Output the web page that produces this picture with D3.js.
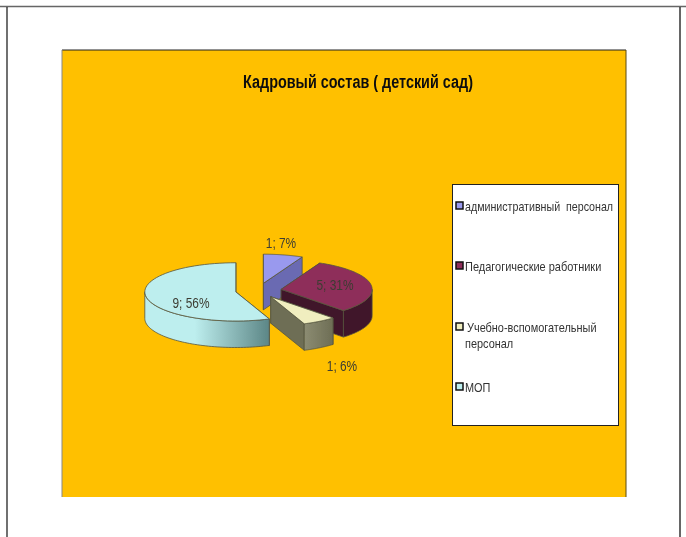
<!DOCTYPE html>
<html><head><meta charset="utf-8">
<script src="https://cdn.jsdelivr.net/npm/d3@7"></script>
<style>
html,body{margin:0;padding:0;background:#fff;overflow:hidden}
svg{display:block}
text{font-family:"Liberation Sans",Arial,sans-serif}
</style></head><body>
<svg id="c" width="686" height="537"></svg>
<script>
const categories = ["административный  персонал","Педагогические работники","Учебно-вспомогательный","МОП"];
const counts = [1,5,1,9];
const percents = [7,31,6,56];
const topColors = ["#9999ee","#8e2e5a","#f0eebf","#bdeeee"];
const sideColors = ["#6a6ab2","#3f1429","#6e6e55","#5f8a8a"];
const wallFrom = ["#6a6ab2","#3f1429","#8c8c72","#bdeeee"];
const wallTo = ["#6a6ab2","#3f1429","#6e6e55","#5c8686"];
const title = "Кадровый состав ( детский сад)";

const W=686,H=537;
const svg=d3.select("#c");
const defs=svg.append("defs");
const soft=defs.append("filter").attr("id","soft").attr("x","-5%").attr("y","-5%").attr("width","110%").attr("height","110%");
soft.append("feGaussianBlur").attr("stdDeviation",0.35);

// condense text horizontally, as the reference's narrow rendering does
const narrow=(sel,f)=>sel.each(function(){
  const w=this.getComputedTextLength();
  this.setAttribute("lengthAdjust","spacingAndGlyphs");
  this.setAttribute("textLength",w*f);
});

// page frame
const frame=svg.append("g");
frame.append("line").attr("x1",0).attr("x2",W).attr("y1",6.5).attr("y2",6.5).attr("stroke","#666").attr("stroke-width",1.5);
frame.append("line").attr("x1",7).attr("x2",7).attr("y1",7).attr("y2",H).attr("stroke","#111").attr("stroke-width",1.2);
frame.append("line").attr("x1",680).attr("x2",680).attr("y1",7).attr("y2",H).attr("stroke","#333").attr("stroke-width",1.5);

// chart area
const area={x:62,y:50,w:564,h:447};
svg.append("rect").attr("x",area.x).attr("y",area.y).attr("width",area.w).attr("height",area.h).attr("fill","#ffc000");
svg.append("line").attr("x1",area.x).attr("x2",area.x+area.w).attr("y1",area.y).attr("y2",area.y).attr("stroke","#222");
svg.append("line").attr("x1",area.x).attr("x2",area.x).attr("y1",area.y).attr("y2",area.y+area.h).attr("stroke","#888");
svg.append("line").attr("x1",area.x+area.w).attr("x2",area.x+area.w).attr("y1",area.y).attr("y2",area.y+area.h).attr("stroke","#5a4a10");

svg.append("text").text(title).attr("x",358).attr("y",88).attr("text-anchor","middle")
  .attr("font-size",18).attr("font-weight","bold").attr("fill","#111").attr("filter","url(#soft)")
  .call(narrow,0.8);

// 3D pie
const cx=258.4, cy=290.5, rx=91, tilt=0.32, depth=26.5, explode=23;
const arcs=d3.pie().sort(null)(percents);
const rim=(a,o,dz=0)=>[o[0]+rx*Math.sin(a), o[1]-rx*tilt*Math.cos(a)+dz];
const origin=a=>{const m=(a.startAngle+a.endAngle)/2;return [cx+explode*Math.sin(m), cy-explode*tilt*Math.cos(m)];};
const line=d3.line();
const stroke="#55553f";
const pie=svg.append("g").attr("filter","url(#soft)");
arcs.forEach((a,i)=>{
  const o=origin(a), g=pie.append("g");
  const base=[o[0],o[1]+depth];
  [a.startAngle,a.endAngle].forEach(t=>{
    g.append("path").attr("d",line([o,rim(t,o),rim(t,o,depth),base])+"Z")
      .attr("fill",sideColors[i]).attr("stroke",stroke).attr("stroke-width",.8).attr("stroke-linejoin","round");
  });
  const from=Math.max(a.startAngle,Math.PI/2), to=Math.min(a.endAngle,3*Math.PI/2);
  if(to>from){
    const ts=d3.range(0,61).map(k=>from+(to-from)*k/60);
    const pts=ts.map(t=>rim(t,o)).concat(ts.slice().reverse().map(t=>rim(t,o,depth)));
    const xs=pts.map(p=>p[0]);
    const gid="wall"+i;
    const gr=defs.append("linearGradient").attr("id",gid).attr("gradientUnits","userSpaceOnUse")
      .attr("x1",i===3?d3.min(xs)+50:d3.min(xs)).attr("x2",d3.max(xs)).attr("y1",0).attr("y2",0);
    gr.append("stop").attr("offset",0).attr("stop-color",wallFrom[i]);
    gr.append("stop").attr("offset",1).attr("stop-color",wallTo[i]);
    g.append("path").attr("d",line(pts)+"Z").attr("fill",`url(#${gid})`).attr("stroke",stroke).attr("stroke-width",.8);
  }
  const ts=d3.range(0,61).map(k=>a.startAngle+(a.endAngle-a.startAngle)*k/60);
  g.append("path").attr("d",line([o].concat(ts.map(t=>rim(t,o))))+"Z")
    .attr("fill",topColors[i]).attr("stroke",stroke).attr("stroke-width",.8).attr("stroke-linejoin","round");
});

// data labels
const labelAt=[[281,248],[335,290],[342,371],[191,308]];
svg.append("g").attr("filter","url(#soft)").selectAll("text").data(arcs).join("text")
  .text((d,i)=>`${counts[i]}; ${percents[i]}%`)
  .attr("x",(d,i)=>labelAt[i][0]).attr("y",(d,i)=>labelAt[i][1])
  .attr("text-anchor","middle").attr("font-size",14).attr("fill","#3c3c32")
  .call(narrow,0.85);

// legend
const lg=svg.append("g");
lg.append("rect").attr("x",452.5).attr("y",184.5).attr("width",166).attr("height",241)
  .attr("fill","#fff").attr("stroke","#222");
const rowY=[206,266,327,387];
const rowFit=[0.82,0.845,0.84,0.84];
const lt=lg.append("g").attr("filter","url(#soft)");
categories.forEach((c,i)=>{
  lt.append("rect").attr("x",456).attr("y",rowY[i]-4).attr("width",7).attr("height",7)
    .attr("fill",topColors[i]).attr("stroke","#111").attr("stroke-width",1.5);
  lt.append("text").attr("x",i===2?467:465).attr("y",rowY[i]+4.5).attr("font-size",13).attr("fill","#333")
    .style("white-space","pre").text(c).call(narrow,rowFit[i]);
  if(i===2) lt.append("text").attr("x",465).attr("y",rowY[i]+20.5).attr("font-size",13).attr("fill","#333").text("персонал").call(narrow,rowFit[i]);
});
</script>
</body></html>
